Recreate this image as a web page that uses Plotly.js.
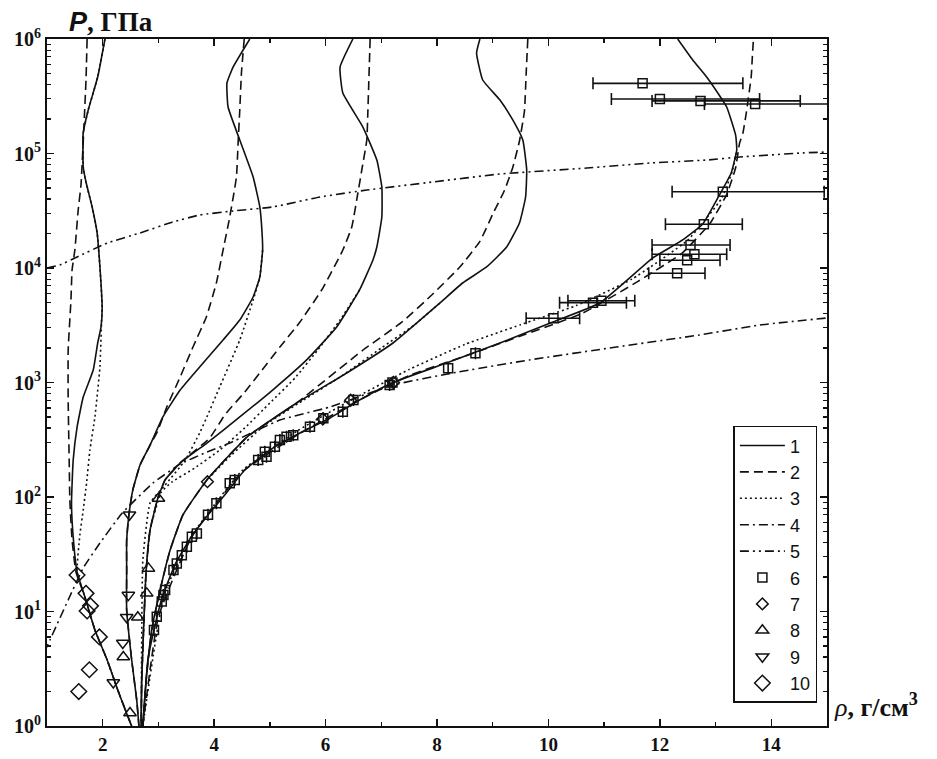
<!DOCTYPE html>
<html>
<head>
<meta charset="utf-8">
<script src="https://cdn.plot.ly/plotly-3.0.1.min.js"></script>
<style>
  html, body { margin: 0; padding: 0; background: #fff; }
  #chart { width: 937px; height: 759px; }
</style>
</head>
<body>
<div id="chart"></div>
<script>
// ---- Family A (lowest initial density) ----
const rhoA1 = [2.04, 1.91, 1.74, 1.65, 1.65, 1.70, 1.81, 1.90, 1.95, 1.99, 1.97, 1.91, 1.83, 1.65, 1.54, 1.47, 1.44, 1.47, 1.54, 1.68, 1.86, 2.08, 2.27, 2.49, 2.52];
const pA1   = [1e6, 465600, 239900, 151000, 76210, 56360, 34120, 20230, 10210, 4560, 3055, 2213, 1285, 746, 408, 210, 88.7, 44.8, 22.1, 13.4, 6.89, 3.77, 2.06, 1.08, 1];
const rhoA2 = [1.72, 1.70, 1.66, 1.61, 1.56, 1.50, 1.45, 1.43, 1.38, 1.38, 1.40, 1.41, 1.45, 1.52, 1.68, 1.86, 2.08, 2.27, 2.52];
const pA2   = [1e6, 438500, 160300, 53090, 32140, 14350, 9616, 5260, 1923, 703, 183, 94.2, 42.1, 22.1, 13.4, 6.89, 3.77, 2.06, 1];
const rhoA3 = [2.04, 1.91, 1.74, 1.65, 1.65, 1.70, 1.81, 1.90, 1.95, 1.99, 1.98, 1.95, 1.86, 1.77, 1.71, 1.65, 1.59, 1.54, 1.68, 1.86, 2.08, 2.27, 2.52];
const pA3   = [1e6, 465600, 239900, 151000, 76210, 56360, 34120, 20230, 10210, 4560, 3516, 1365, 500, 257, 132, 76.9, 46.6, 22.1, 13.4, 6.89, 3.77, 2.06, 1];

// ---- Family B ----
const rhoB1 = [4.64, 4.34, 4.23, 4.25, 4.46, 4.70, 4.82, 4.86, 4.87, 4.82, 4.70, 4.46, 4.16, 3.74, 3.39, 3.08, 2.85, 2.67, 2.54, 2.47, 2.43, 2.43, 2.43, 2.52, 2.61, 2.65];
const pB1   = [1e6, 568900, 413000, 254700, 131200, 62370, 34120, 20230, 14350, 8337, 5585, 3516, 2350, 1365, 859, 500, 284, 190, 115, 69.7, 42.1, 23, 10.3, 3.77, 1.69, 1];
const rhoB2 = [4.54, 4.49, 4.46, 4.43, 4.40, 4.28, 4.16, 4.04, 3.86, 3.62, 3.39, 3.15, 2.97, 2.85, 2.67, 2.54, 2.47, 2.43, 2.43, 2.43, 2.52, 2.61, 2.65];
const pB2   = [1e6, 504700, 239900, 123600, 62370, 27860, 14350, 7396, 3733, 2042, 1117, 611, 362, 284, 190, 115, 69.7, 42.1, 23, 10.3, 3.77, 1.69, 1];
const rhoB3 = [4.87, 4.82, 4.70, 4.46, 4.10, 3.87, 3.74, 3.48, 3.12, 2.85, 2.72, 2.70, 2.69];
const pB3   = [14350, 8337, 5260, 2350, 914, 500, 362, 210, 127, 88.7, 28, 5.6, 1];

// ---- Family C ----
const rhoC1 = [6.49, 6.26, 6.31, 6.67, 6.92, 7.01, 7.01, 6.92, 6.85, 6.61, 6.20, 5.66, 5.05, 4.46, 3.87, 3.39, 3.12, 2.99, 2.85, 2.78, 2.74, 2.70, 2.69];
const pC1   = [1e6, 568900, 337300, 170300, 87700, 50930, 27860, 15240, 11750, 6427, 3055, 1574, 859, 500, 296, 198, 141, 98, 51.5, 23, 8.4, 2.5, 1];
const rhoC2 = [6.80, 6.76, 6.74, 6.65, 6.58, 6.47, 6.31, 5.93, 5.54, 5.18, 4.86, 4.55, 4.19, 3.92, 3.39, 3.12, 2.99, 2.85, 2.78, 2.74, 2.70, 2.69];
const pC2   = [1e6, 239900, 131200, 71780, 45190, 22800, 14350, 6427, 3373, 2042, 1285, 826, 520, 327, 198, 141, 98, 51.5, 23, 8.4, 2.5, 1];
const rhoC3 = [6.61, 6.26, 5.86, 5.45, 5.00, 4.55, 4.10, 3.65, 3.24, 3.05, 2.85, 2.78, 2.74, 2.70, 2.69];
const pC3   = [6427, 3516, 1923, 1094, 662, 401, 257, 179, 135, 110, 51.5, 23, 8.4, 2.5, 1];

// ---- Family D ----
const rhoD1 = [8.77, 8.71, 8.82, 9.13, 9.36, 9.54, 9.61, 9.59, 9.48, 9.25, 8.89, 8.46, 8.05, 7.21, 6.38, 5.48, 4.59, 3.87, 3.44, 3.21, 3.03, 2.88, 2.78, 2.72];
const pD1   = [1e6, 755000, 438500, 293100, 196300, 131200, 71780, 41690, 24720, 15240, 10210, 7396, 4943, 2213, 1211, 662, 334, 141, 69.7, 34.4, 15.4, 6.9, 2.52, 1];
const rhoD2 = [9.63, 9.60, 9.57, 9.48, 9.36, 9.21, 9.00, 8.77, 8.41, 7.92, 7.38, 6.66, 5.48, 4.59, 3.87, 3.44, 3.21, 3.03, 2.88, 2.78, 2.72];
const pD2   = [1e6, 496000, 235000, 128500, 75600, 47500, 29500, 17100, 10200, 5900, 3400, 1900, 662, 334, 141, 69.7, 34.4, 15.4, 6.9, 2.52, 1];
const rhoD3 = [8.05, 7.60, 7.00, 6.30, 5.60, 4.90, 4.30, 3.87];
const pD3   = [4943, 3200, 2000, 1150, 700, 420, 230, 141];

// ---- Full-density family ----
const rhoS1 = [2.72, 2.81, 2.92, 3.08, 3.31, 3.60, 3.89, 4.19, 4.55, 5.00, 5.54, 6.08, 6.61, 7.19, 8.17, 9.13, 10.08, 10.92, 11.87, 12.41, 12.77, 13.07, 13.28, 13.38, 13.36, 13.20, 13.04, 12.84, 12.59, 12.32];
const pS1   = [1, 3.77, 6.9, 13.9, 26.5, 45.6, 69.7, 104, 172, 257, 362, 490, 703, 991, 1479, 2213, 3373, 4943, 12220, 17580, 24210, 43450, 67610, 107200, 144500, 254700, 337300, 465600, 656100, 1e6];
const rhoS2 = [2.72, 3.00, 3.60, 4.50, 5.50, 6.60, 7.50, 8.50, 9.60, 10.60, 11.60, 12.40, 12.90, 13.20, 13.36, 13.43, 13.49, 13.55, 13.64, 13.66, 13.68];
const pS2   = [1, 9, 45, 165, 350, 700, 1150, 1700, 2650, 4000, 7600, 13500, 24500, 44000, 75000, 123000, 150000, 224000, 470000, 700000, 1e6];
const rhoS3 = [2.72, 3.10, 3.60, 4.50, 5.50, 6.50, 7.50, 8.50, 9.50, 10.50, 11.50, 12.50, 13.10, 13.30, 13.38];
const pS3   = [1, 14, 46, 170, 380, 720, 1300, 2150, 3200, 4700, 8000, 17500, 40000, 70000, 107200];

// ---- Limiting curves ----
const rho4 = [0.95, 1.05, 1.38, 1.65, 1.95, 2.35, 2.90, 3.39, 3.83, 4.28, 5.18, 6.08, 7.21, 8.28, 9.66, 11.22, 12.71, 13.79, 15.0];
const p4   = [4.4, 5.6, 12.6, 24, 39.6, 72.4, 132, 194, 242, 296, 470, 611, 951, 1211, 1574, 2042, 2600, 3177, 3660];
const rho5 = [1.0, 1.23, 1.54, 2.08, 2.67, 3.26, 3.74, 4.34, 5.05, 5.90, 6.74, 7.92, 9.13, 10.69, 11.82, 12.84, 13.43, 14.51, 15.0];
const p5   = [10000, 10620, 12470, 16520, 20230, 25240, 29040, 31480, 34120, 41690, 47970, 56360, 66220, 74650, 82600, 87700, 93100, 100900, 103000];

// ---- Experimental points ----
const rho6 = [2.92, 2.97, 3.06, 3.09, 3.12, 3.27, 3.33, 3.42, 3.51, 3.60, 3.69, 3.89, 4.04, 4.28, 4.37, 4.79, 4.94, 4.91, 5.09, 5.18, 5.30, 5.42, 5.72, 5.96, 6.31, 6.50, 7.15, 7.20, 8.20, 8.69, 10.09, 10.80, 10.95, 12.31, 12.49, 12.62, 12.55, 12.79, 13.13, 11.69, 12.00, 12.73, 13.71];
const p6   = [6.9, 9.0, 12.2, 13.9, 15.4, 23, 26.3, 31, 36.8, 45, 48, 70, 88, 132, 141, 210, 225, 249, 275, 315, 336, 347, 411, 487, 556, 703, 950, 1000, 1330, 1800, 3640, 4980, 5180, 9000, 11700, 13200, 15900, 24100, 46400, 410000, 299000, 288000, 271000];
const err6Plus  = [0,0,0,0,0,0,0,0,0,0,0,0,0,0,0,0,0,0,0,0,0,0,0,0,0,0,0,0,0,0, 0.47, 0.60, 0.60, 0.50, 0.59, 0.58, 0.71, 0.69, 1.82, 1.80, 1.79, 1.79, 1.60];
const err6Minus = [0,0,0,0,0,0,0,0,0,0,0,0,0,0,0,0,0,0,0,0,0,0,0,0,0,0,0,0,0,0, 0.49, 0.60, 0.60, 0.51, 0.49, 0.76, 0.69, 0.69, 0.91, 0.89, 0.87, 0.87, 0.91];
const rho7 = [3.88, 5.95, 6.45, 7.22];
const p7   = [136, 480, 700, 1000];
const rho8 = [3.00, 2.82, 2.79, 2.63, 2.37, 2.49];
const p8   = [97, 23.8, 14.4, 8.9, 4.0, 1.3];
const rho9 = [2.48, 2.46, 2.43, 2.36, 2.19];
const p9   = [70, 13.9, 8.9, 5.3, 2.4];
const rho10 = [1.54, 1.70, 1.78, 1.72, 1.94, 1.76, 1.57];
const p10   = [20.8, 14.4, 11.2, 10.1, 6.0, 3.1, 2.0];

const legendLabels = ['1', '2', '3', '4', '5', '6', '7', '8', '9', '10'];

const INK = '#111';
const DASH = {
  solid: 'solid',
  dashed: '9px,5px',
  dotted: '2px,3px',
  dashdot: '9px,4px,2px,4px',
  dashdotdot: '9px,4px,2px,4px,2px,4px'
};

function curve(x, y, dash, label) {
  return {
    x: x, y: y, type: 'scatter', mode: 'lines',
    line: { color: INK, width: 1.6, dash: DASH[dash], shape: 'spline', smoothing: 0.4 },
    name: label || 'curve', showlegend: !!label, hoverinfo: 'skip'
  };
}

function points(x, y, symbol, size, label, extra) {
  const t = {
    x: x, y: y, type: 'scatter', mode: 'markers',
    marker: { symbol: symbol, size: size, color: INK, line: { color: INK, width: 1.5 } },
    name: label, showlegend: true, hoverinfo: 'skip'
  };
  return Object.assign(t, extra || {});
}

const traces = [
  curve(rhoS1, pS1, 'solid', legendLabels[0]),
  curve(rhoS2, pS2, 'dashed', legendLabels[1]),
  curve(rhoS3, pS3, 'dotted', legendLabels[2]),
  curve(rho4, p4, 'dashdot', legendLabels[3]),
  curve(rho5, p5, 'dashdotdot', legendLabels[4]),
  curve(rhoA1, pA1, 'solid'), curve(rhoA2, pA2, 'dashed'), curve(rhoA3, pA3, 'dotted'),
  curve(rhoB1, pB1, 'solid'), curve(rhoB2, pB2, 'dashed'), curve(rhoB3, pB3, 'dotted'),
  curve(rhoC1, pC1, 'solid'), curve(rhoC2, pC2, 'dashed'), curve(rhoC3, pC3, 'dotted'),
  curve(rhoD1, pD1, 'solid'), curve(rhoD2, pD2, 'dashed'), curve(rhoD3, pD3, 'dotted'),
  points(rho6, p6, 'square-open', 9, legendLabels[5], {
    error_x: { type: 'data', symmetric: false, array: err6Plus, arrayminus: err6Minus,
               color: INK, thickness: 1.6, width: 6 }
  }),
  points(rho7, p7, 'diamond-open', 9, legendLabels[6]),
  points(rho8, p8, 'triangle-up-open', 11, legendLabels[7]),
  points(rho9, p9, 'triangle-down-open', 11, legendLabels[8]),
  points(rho10, p10, 'diamond-open', 12, legendLabels[9])
];

const decades = [0, 1, 2, 3, 4, 5, 6];
const yMajor = decades.map(d => Math.pow(10, d));
const yMajorText = decades.map(d => '10<sup>' + d + '</sup>');
const yMinor = [];
decades.slice(0, -1).forEach(d => { for (let k = 2; k <= 9; k++) yMinor.push(k * Math.pow(10, d)); });

const serif = 'Liberation Serif, Times New Roman, serif';
const sans = 'Liberation Sans, Arial, sans-serif';

const layout = {
  width: 937, height: 759,
  margin: { l: 47, r: 110, t: 39, b: 33 },
  paper_bgcolor: '#fff', plot_bgcolor: '#fff',
  showlegend: true,
  legend: {
    x: 0.88, y: 0.437, xanchor: 'left', yanchor: 'top',
    bgcolor: '#fff', bordercolor: INK, borderwidth: 1.5,
    font: { family: sans, size: 18, color: INK },
    itemwidth: 45, tracegroupgap: 0
  },
  xaxis: {
    range: [1, 15], showgrid: false, zeroline: false,
    showline: true, linecolor: INK, linewidth: 2, mirror: 'allticks',
    ticks: 'inside', ticklen: 7, tickwidth: 1.5, tickcolor: INK,
    tickmode: 'array', tickvals: [2, 4, 6, 8, 10, 12, 14],
    tickfont: { family: serif, size: 19, color: INK, weight: 'bold' },
    minor: { tickmode: 'array', tickvals: [3, 5, 7, 9, 11, 13], ticks: 'inside', ticklen: 4, tickwidth: 1.5, tickcolor: INK, showgrid: false }
  },
  yaxis: {
    type: 'log', range: [0, 6], showgrid: false, zeroline: false,
    showline: true, linecolor: INK, linewidth: 2, mirror: 'allticks',
    ticks: 'inside', ticklen: 7, tickwidth: 1.5, tickcolor: INK,
    tickmode: 'array', tickvals: yMajor, ticktext: yMajorText,
    tickfont: { family: serif, size: 20, color: INK, weight: 'bold' },
    minor: { tickmode: 'array', tickvals: yMinor, ticks: 'inside', ticklen: 4, tickwidth: 1.2, tickcolor: INK, showgrid: false }
  },
  annotations: [
    {
      xref: 'paper', yref: 'paper', x: 0.025, y: 1, xanchor: 'left', yanchor: 'bottom', yshift: 0,
      showarrow: false,
      text: '<span style="font-family:Liberation Sans, Arial, sans-serif;font-style:italic;font-weight:bold">P</span><b>, ГПа</b>',
      font: { family: serif, size: 27, color: INK }
    },
    {
      xref: 'paper', yref: 'paper', x: 1.006, y: 0.02, xanchor: 'left', yanchor: 'bottom', yshift: -12,
      showarrow: false,
      text: '<i>ρ</i><b>, г/см<sup>3</sup></b>',
      font: { family: serif, size: 26, color: INK }
    }
  ]
};

Plotly.newPlot('chart', traces, layout, { displayModeBar: false, staticPlot: true });
</script>
</body>
</html>
